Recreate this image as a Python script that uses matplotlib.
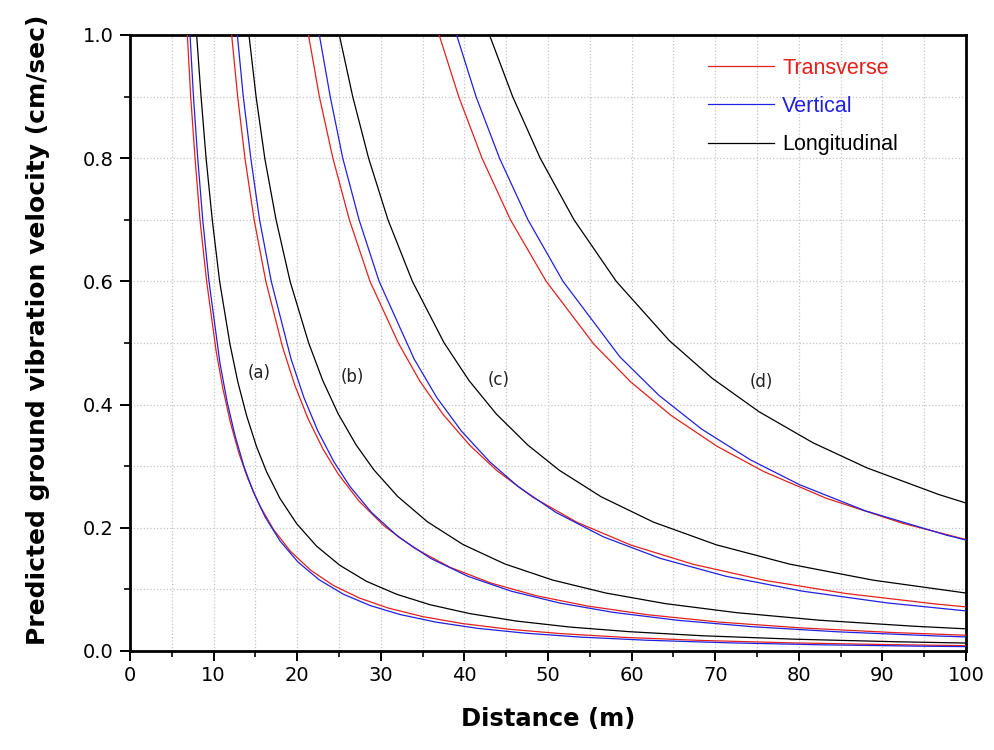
import matplotlib
matplotlib.use("Agg")
import matplotlib.pyplot as plt
from matplotlib.ticker import MultipleLocator, FormatStrFormatter

# ---------------- data (distance m, velocity cm/s) ----
trans_a_d = [6.86, 7.26, 7.78, 8.37, 9.17, 10.29, 11.11, 12.01, 13.03, 14.06, 15.44, 17.15, 19.21, 21.61,
             24.35, 27.44, 30.87, 34.99, 39.79, 45.28, 51.45, 59.0, 68.6, 78.89, 90.55, 100.0]
trans_a_v = [1.0, 0.9, 0.8, 0.7, 0.6, 0.488, 0.426, 0.371, 0.321, 0.281, 0.238, 0.1975, 0.1616, 0.1312,
             0.1062, 0.086, 0.0698, 0.0559, 0.0445, 0.0354, 0.0283, 0.0222, 0.017, 0.0133, 0.0104, 0.0087]
vert_a_d = [7.18, 7.59, 8.1, 8.7, 9.45, 10.77, 11.63, 12.57, 13.64, 14.72, 16.16, 17.95, 20.1, 22.62,
            25.49, 28.72, 32.31, 36.62, 41.64, 47.39, 53.85, 61.75, 71.8, 82.57, 94.78, 100.0]
vert_a_v = [1.0, 0.9, 0.8, 0.7, 0.6, 0.4666, 0.4037, 0.3492, 0.2992, 0.2594, 0.2177, 0.1786, 0.1443, 0.1157,
            0.0924, 0.0738, 0.0592, 0.0468, 0.0367, 0.0288, 0.0226, 0.0175, 0.0132, 0.0101, 0.0078, 0.0071]
long_a_d = [7.97, 8.5, 9.1, 9.84, 10.72, 11.96, 12.91, 13.95, 15.14, 16.34, 17.93, 19.93, 22.32, 25.11,
            28.29, 31.88, 35.87, 40.65, 46.23, 52.6, 59.78, 68.54, 79.7, 91.66, 100.0]
long_a_v = [1.0, 0.9, 0.8, 0.7, 0.6, 0.4979, 0.4361, 0.3819, 0.3316, 0.2909, 0.2479, 0.2068, 0.1702, 0.139,
            0.1131, 0.0922, 0.0752, 0.0607, 0.0486, 0.0389, 0.0313, 0.0247, 0.0191, 0.015, 0.0129]

trans_b_d = [12.16, 12.88, 13.75, 14.85, 16.25, 18.24, 19.7, 21.28, 23.1, 24.93, 27.36, 30.4, 34.05, 38.3,
             43.17, 48.64, 54.72, 62.02, 70.53, 80.26, 91.2, 100.0]
trans_b_v = [1.0, 0.9, 0.8, 0.7, 0.6, 0.4939, 0.432, 0.3777, 0.3273, 0.2868, 0.2439, 0.203, 0.1667, 0.1358,
             0.1103, 0.0896, 0.073, 0.0587, 0.0469, 0.0375, 0.03, 0.0256]
vert_b_d = [12.84, 13.55, 14.45, 15.5, 16.9, 19.26, 20.8, 22.47, 24.4, 26.32, 28.89, 32.1, 35.95, 40.45,
            45.58, 51.36, 57.78, 65.48, 74.47, 84.74, 96.3, 100.0]
vert_b_v = [1.0, 0.9, 0.8, 0.7, 0.6, 0.4742, 0.4116, 0.3571, 0.307, 0.2669, 0.2249, 0.1853, 0.1504, 0.1211,
            0.0972, 0.078, 0.0628, 0.0499, 0.0394, 0.0311, 0.0245, 0.0229]
long_b_d = [14.23, 15.08, 16.12, 17.47, 19.15, 21.35, 23.05, 24.9, 27.04, 29.17, 32.02, 35.58, 39.84, 44.82,
            50.52, 56.92, 64.04, 72.57, 82.53, 93.92, 100.0]
long_b_v = [1.0, 0.9, 0.8, 0.7, 0.6, 0.5009, 0.4393, 0.3851, 0.3347, 0.2941, 0.2509, 0.2097, 0.1728, 0.1414,
            0.1153, 0.0941, 0.0769, 0.0622, 0.0499, 0.0401, 0.036]

trans_c_d = [21.35, 22.65, 24.27, 26.24, 28.71, 32.1, 34.67, 37.45, 40.66, 43.87, 48.15, 53.5, 59.92, 67.41,
             75.97, 85.6, 96.3, 100.0]
trans_c_v = [1.0, 0.9, 0.8, 0.7, 0.6, 0.4999, 0.4382, 0.384, 0.3337, 0.293, 0.2499, 0.2087, 0.1719, 0.1406,
             0.1146, 0.0934, 0.0764, 0.0716]
vert_c_d = [22.65, 23.95, 25.45, 27.4, 29.8, 33.98, 36.69, 39.64, 43.04, 46.43, 50.96, 56.63, 63.42, 71.35,
            80.41, 90.6, 100.0]
vert_c_v = [1.0, 0.9, 0.8, 0.7, 0.6, 0.4742, 0.4116, 0.3571, 0.307, 0.2669, 0.2249, 0.1853, 0.1504, 0.1211,
            0.0972, 0.078, 0.0651]
long_c_d = [25.04, 26.64, 28.54, 30.86, 33.78, 37.56, 40.56, 43.82, 47.58, 51.33, 56.34, 62.6, 70.11, 78.88,
            88.89, 100.0]
long_c_v = [1.0, 0.9, 0.8, 0.7, 0.6, 0.5005, 0.4389, 0.3847, 0.3344, 0.2936, 0.2505, 0.2093, 0.1725, 0.1411,
            0.115, 0.0941]

trans_d_d = [36.98, 39.32, 42.11, 45.51, 49.79, 55.47, 59.91, 64.72, 70.26, 75.81, 83.21, 92.45, 100.0]
trans_d_v = [1.0, 0.9, 0.8, 0.7, 0.6, 0.4983, 0.4366, 0.3824, 0.332, 0.2913, 0.2483, 0.2072, 0.181]
vert_d_d = [39.07, 41.39, 44.2, 47.6, 51.8, 58.61, 63.29, 68.37, 74.23, 80.09, 87.91, 97.68, 100.0]
vert_d_v = [1.0, 0.9, 0.8, 0.7, 0.6, 0.4773, 0.4148, 0.3603, 0.3102, 0.27, 0.2278, 0.188, 0.1801]
long_d_d = [43.0, 45.77, 49.07, 53.11, 58.17, 64.5, 69.66, 75.25, 81.7, 88.15, 96.75, 100.0]
long_d_v = [1.0, 0.9, 0.8, 0.7, 0.6, 0.504, 0.4425, 0.3884, 0.338, 0.2973, 0.254, 0.2402]

group_labels = ["(a)", "(b)", "(c)", "(d)"]
group_label_x = [15.5, 26.6, 44.1, 75.5]
group_label_y = [0.451, 0.444, 0.440, 0.437]

series_names = ["Transverse", "Vertical", "Longitudinal"]
series_colors = ["#e3201b", "#2020e0", "#000000"]

x_ticks = [0, 10, 20, 30, 40, 50, 60, 70, 80, 90, 100]
y_ticks = [0.0, 0.2, 0.4, 0.6, 0.8, 1.0]

# ---------------- figure ----------------
fig = plt.figure(figsize=(9.94, 7.5), dpi=100)
ax = fig.add_axes([130 / 994, 1 - 651 / 750, 836 / 994, 616 / 750])

groups = [
    [(trans_a_d, trans_a_v), (vert_a_d, vert_a_v), (long_a_d, long_a_v)],
    [(trans_b_d, trans_b_v), (vert_b_d, vert_b_v), (long_b_d, long_b_v)],
    [(trans_c_d, trans_c_v), (vert_c_d, vert_c_v), (long_c_d, long_c_v)],
    [(trans_d_d, trans_d_v), (vert_d_d, vert_d_v), (long_d_d, long_d_v)],
]

handles = [None, None, None]
for g in groups:
    for i, (d, v) in enumerate(g):
        ln, = ax.plot(d, v, color=series_colors[i], lw=0.9, zorder=3)
        if handles[i] is None:
            handles[i] = ln

for lab, lx, ly in zip(group_labels, group_label_x, group_label_y):
    ax.text(lx, ly, lab, fontsize=12, family="DejaVu Sans", color="#222222",
            ha="center", va="center", zorder=4)

ax.set_xlim(0, 100)
ax.set_ylim(0, 1.0)
ax.set_xticks(x_ticks)
ax.set_yticks(y_ticks)
ax.xaxis.set_minor_locator(MultipleLocator(5))
ax.yaxis.set_minor_locator(MultipleLocator(0.1))
ax.yaxis.set_major_formatter(FormatStrFormatter("%.1f"))

ax.grid(True, which="both", linestyle=":", color="#c4c4c4", linewidth=0.9, zorder=0)
ax.set_axisbelow(True)

for s in ax.spines.values():
    s.set_linewidth(2.0)
    s.set_color("black")

ax.tick_params(which="major", direction="out", length=7, width=1.4, pad=5,
               labelsize=14, colors="black")
ax.tick_params(axis="x", which="major", pad=4)
ax.tick_params(which="minor", direction="out", length=4.5, width=1.2)
for lbl in ax.get_xticklabels() + ax.get_yticklabels():
    lbl.set_family("DejaVu Sans")

ax.set_xlabel("Distance (m)", fontsize=17.5, fontweight="bold", family="DejaVu Sans")
ax.set_ylabel("Predicted ground vibration velocity (cm/sec)", fontsize=18,
              fontweight="bold", family="DejaVu Sans")
ax.xaxis.set_label_coords(0.5, -0.091)
ax.yaxis.set_label_coords(-0.096, 0.521)

leg = ax.legend(handles, series_names, loc="upper left",
                bbox_to_anchor=(0.691, 0.963), frameon=False, borderpad=0,
                borderaxespad=0, handlelength=3.1, handletextpad=0.37,
                labelspacing=0.8, prop={"family": "Liberation Sans", "size": 15.5})
for txt, c in zip(leg.get_texts(), series_colors):
    txt.set_color(c)

fig.savefig("out.png", dpi=100)
